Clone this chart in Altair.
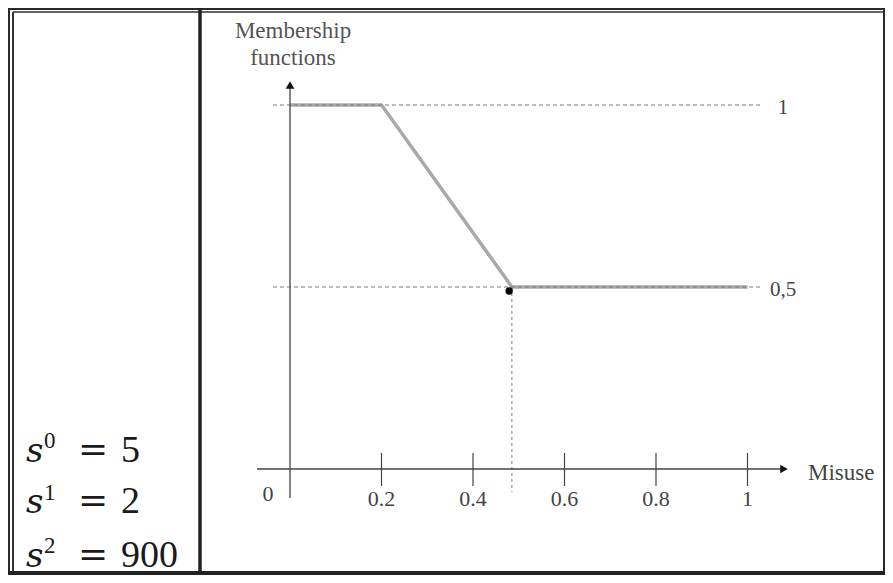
import altair as alt
import pandas as pd

# ---- data ----
misuse = [0.0, 0.2, 0.485, 1.0]
membership = [1.0, 1.0, 0.5, 0.5]
tick_values = [0.2, 0.4, 0.6, 0.8, 1.0]
tick_labels = ["0.2", "0.4", "0.6", "0.8", "1"]
levels = [1.0, 0.5]
level_labels = ["1", "0,5"]
dot_x = [0.479]
dot_y = [0.489]
s_exponents = ["0", "1", "2"]
s_values = ["5", "2", "900"]
x_title = "Misuse"
y_title = ["Membership", "functions"]
origin_label = "0"

# ---- layout ----
W, H = 877, 567
PX_X, X0 = 457.5, 282      # px per unit, pixel of x=0
PX_Y, Y0 = 364.0, 461      # px per unit, pixel of y=0
x_scale = alt.Scale(domain=[-X0 / PX_X, (W - X0) / PX_X], nice=False, zero=False)
y_scale = alt.Scale(domain=[-(H - Y0) / PX_Y, Y0 / PX_Y], nice=False, zero=False)

SERIF = "Liberation Serif"
AX = "#444444"

def X(field):
    return alt.X(field, type="quantitative", scale=x_scale, axis=None)

def Y(field):
    return alt.Y(field, type="quantitative", scale=y_scale, axis=None)

one = pd.DataFrame({"k": [0]})
curve = pd.DataFrame({"misuse": misuse, "membership": membership})
ticks = pd.DataFrame({"x": tick_values, "label": tick_labels})
lev = pd.DataFrame({"level": levels, "label": level_labels})
dot = pd.DataFrame({"x": dot_x, "y": dot_y})
zero = pd.DataFrame({"x": [0.0], "y": [0.0]})
kink = pd.DataFrame({"x": [misuse[2]], "y": [membership[2]]})

layers = []

# frame
base = alt.Chart(one)
layers.append(base.mark_rect(fill="white").encode(
    x=alt.value(0), x2=alt.value(W), y=alt.value(0), y2=alt.value(H)))
layers.append(base.mark_rect(fillOpacity=0, stroke="#2a2a2a", strokeWidth=2).encode(
    x=alt.value(1), x2=alt.value(W - 1), y=alt.value(1), y2=alt.value(H - 1)))
layers.append(base.mark_rule(color="#333", strokeWidth=2).encode(
    x=alt.value(5), y=alt.value(4), y2=alt.value(H - 3)))
layers.append(base.mark_rule(color="#333", strokeWidth=1.5).encode(
    x=alt.value(5), x2=alt.value(W - 1), y=alt.value(4)))
layers.append(base.mark_rule(color="#222", strokeWidth=4).encode(
    x=alt.value(0), x2=alt.value(W), y=alt.value(H - 2)))
layers.append(base.mark_rule(color="#222", strokeWidth=3.5).encode(
    x=alt.value(192), y=alt.value(0), y2=alt.value(H)))

# membership curve (below the dashed guides)
layers.append(alt.Chart(curve).mark_line(color="#a9a9a9", strokeWidth=3.5).encode(
    x=X("misuse"), y=Y("membership")))

# dashed guide lines
layers.append(alt.Chart(lev).mark_rule(color="#7a7a7a", strokeWidth=1, strokeDash=[4, 3]).encode(
    y=Y("level"), x=alt.value(265), x2=alt.value(755)))
layers.append(alt.Chart(lev).mark_text(font=SERIF, fontSize=21, color=AX, baseline="middle",
                                       align="center", dy=3).encode(
    y=Y("level"), x=alt.value(775), text="label:N"))
layers.append(alt.Chart(kink).mark_rule(color="#7a7a7a", strokeWidth=1, strokeDash=[3, 3]).encode(
    x=X("x"), y=Y("y"), y2=alt.value(484)))

# axes
layers.append(alt.Chart(zero).mark_rule(color=AX, strokeWidth=1.3).encode(
    x=X("x"), y=alt.value(490), y2=alt.value(78)))
layers.append(alt.Chart(zero).mark_rule(color=AX, strokeWidth=1.3).encode(
    y=Y("y"), x=alt.value(249), x2=alt.value(773)))
layers.append(alt.Chart(zero).mark_point(shape="triangle-up", filled=True, size=75,
                                         color="#111", opacity=1).encode(
    x=X("x"), y=alt.value(77)))
layers.append(alt.Chart(zero).mark_point(shape="triangle-right", filled=True, size=75,
                                         color="#111", opacity=1).encode(
    y=Y("y"), x=alt.value(776)))
layers.append(alt.Chart(ticks).mark_rule(color=AX, strokeWidth=1.2).encode(
    x=X("x"), y=alt.value(445), y2=alt.value(478)))
layers.append(alt.Chart(ticks).mark_text(font=SERIF, fontSize=22, color=AX, baseline="middle").encode(
    x=X("x"), y=alt.value(491), text="label:N"))
layers.append(base.mark_text(font=SERIF, fontSize=22, color=AX, baseline="middle").encode(
    x=alt.value(260), y=alt.value(486), text=alt.value(origin_label)))

# dot
layers.append(alt.Chart(dot).mark_point(shape="circle", filled=True, size=55, color="black",
                                        opacity=1).encode(x=X("x"), y=Y("y")))

# titles
layers.append(base.mark_text(font=SERIF, fontSize=23, color="#555", baseline="middle").encode(
    x=alt.value(285), y=alt.value(23), text=alt.value(y_title[0])))
layers.append(base.mark_text(font=SERIF, fontSize=23, color="#555", baseline="middle").encode(
    x=alt.value(285), y=alt.value(50), text=alt.value(y_title[1])))
layers.append(base.mark_text(font=SERIF, fontSize=23, color="#444", baseline="middle",
                             align="left").encode(
    x=alt.value(800), y=alt.value(465), text=alt.value(x_title)))

# left cell: s^k = v
baselines = [454, 505, 559]
sup_baselines = [440, 492, 545]
for i in range(3):
    row = pd.DataFrame({"exp": [s_exponents[i]], "val": [s_values[i]]})
    rc = alt.Chart(row)
    layers.append(rc.mark_text(font="DejaVu Serif", fontStyle="italic", fontSize=34, color="#1a1a1a",
                               align="left", baseline="alphabetic").encode(
        x=alt.value(18), y=alt.value(baselines[i]), text=alt.value("s")))
    layers.append(rc.mark_text(font=SERIF, fontSize=23, color="#1a1a1a",
                               align="left", baseline="alphabetic").encode(
        x=alt.value(36), y=alt.value(sup_baselines[i]), text="exp:N"))
    layers.append(rc.mark_text(font="DejaVu Serif", fontSize=36, color="#1a1a1a",
                               align="center", baseline="alphabetic").encode(
        x=alt.value(85), y=alt.value(baselines[i] - 1), text=alt.value("=")))
    layers.append(rc.mark_text(font=SERIF, fontSize=38, color="#1a1a1a",
                               align="left", baseline="alphabetic").encode(
        x=alt.value(113), y=alt.value(baselines[i]), text="val:N"))

chart = alt.layer(*layers).properties(
    width=W, height=H, autosize=alt.AutoSizeParams(type="none"), padding=0,
    background="#cde5ec",
).configure_view(stroke=None)

chart.save("out.html", embed_options={"renderer": "svg", "actions": False})
